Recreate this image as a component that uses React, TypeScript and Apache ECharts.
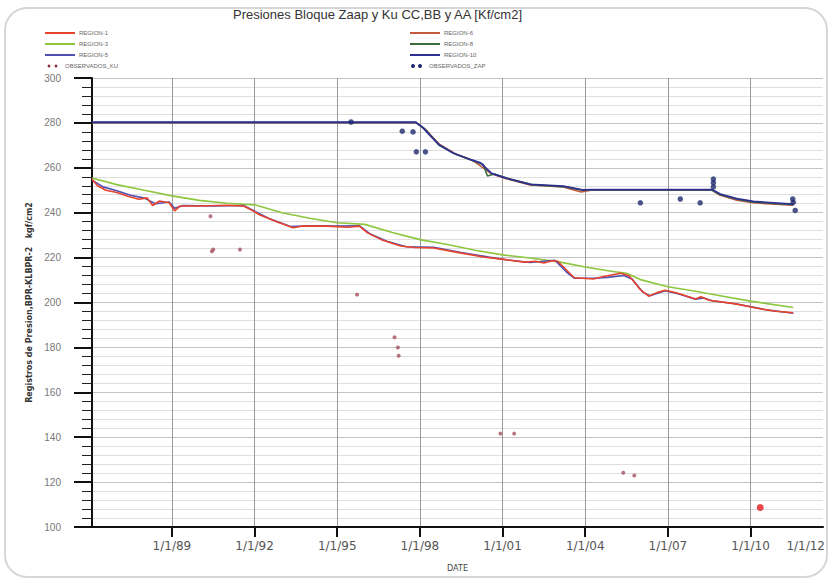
import React, { useEffect, useRef } from "react";
import * as echarts from "echarts";

const TITLE = "Presiones Bloque Zaap y Ku CC,BB y AA [Kf/cm2]";
const Y_NAME = "Registros de Presion,BPR-KLBPR-2   kgf/cm2";
const X_NAME = "DATE";

// x positions are decimal years
const xTickYears = [1989, 1992, 1995, 1998, 2001, 2004, 2007, 2010];
const xLabelYears = [1989, 1992, 1995, 1998, 2001, 2004, 2007, 2010, 2012];

// Ku block (lower group)
const region1: [number, number][] = [
  [1986.1, 255.0], [1986.3, 252.0], [1986.6, 250.0], [1987.0, 249.0], [1987.4, 247.3],
  [1987.8, 246.0], [1988.1, 246.6], [1988.3, 243.2], [1988.55, 245.2], [1988.9, 244.4],
  [1989.1, 240.8], [1989.3, 243.0], [1990.0, 243.0], [1991.0, 243.3], [1991.6, 243.0],
  [1991.8, 241.8], [1992.2, 239.0], [1992.8, 236.0], [1993.4, 233.3], [1993.7, 234.0],
  [1994.6, 234.0], [1995.4, 233.5], [1995.8, 234.0], [1996.1, 231.0], [1996.6, 228.0],
  [1997.3, 225.2], [1997.8, 224.5], [1998.5, 224.3], [1999.5, 222.0], [2000.3, 220.3],
  [2001.1, 219.1], [2001.8, 218.0], [2002.2, 218.4], [2002.5, 217.6], [2002.8, 218.6],
  [2003.0, 218.4], [2003.3, 214.7], [2003.6, 211.0], [2004.3, 210.5], [2004.7, 211.7],
  [2005.3, 213.0], [2005.6, 211.8], [2006.0, 205.7], [2006.3, 202.8], [2006.6, 204.4],
  [2006.9, 205.5], [2007.3, 204.3], [2008.0, 201.6], [2008.2, 202.6], [2008.5, 201.0],
  [2009.4, 199.5], [2010.4, 197.1], [2010.9, 196.1], [2011.55, 195.4],
];
const region3: [number, number][] = [
  [1986.1, 255.5], [1987.0, 252.5], [1988.0, 250.0], [1989.0, 247.5], [1990.0, 245.5],
  [1991.0, 244.2], [1992.0, 243.5], [1993.0, 240.0], [1994.0, 237.5], [1995.0, 235.5],
  [1996.0, 234.8], [1997.0, 231.2], [1998.0, 228.0], [1999.0, 225.8], [2000.0, 223.3],
  [2001.0, 221.2], [2002.0, 219.8], [2003.0, 218.2], [2004.0, 215.8], [2005.0, 213.8],
  [2005.5, 213.0], [2006.0, 210.2], [2007.0, 207.0], [2008.0, 205.0], [2009.0, 202.8],
  [2010.0, 200.6], [2011.55, 197.8],
];
const region5: [number, number][] = [
  [1986.1, 254.5], [1986.5, 251.5], [1987.0, 249.8], [1987.5, 247.8], [1988.0, 246.5],
  [1988.4, 244.0], [1988.9, 244.8], [1989.1, 242.0], [1989.4, 243.2], [1990.5, 243.0],
  [1991.6, 243.2], [1991.9, 241.3], [1992.5, 237.5], [1993.3, 233.8], [1994.0, 234.2],
  [1995.0, 234.0], [1995.8, 234.2], [1996.2, 230.5], [1996.8, 227.3], [1997.5, 224.8],
  [1998.5, 224.6], [1999.5, 222.3], [2000.5, 220.2], [2001.2, 218.9], [2002.0, 217.8],
  [2002.9, 218.8], [2003.3, 213.8], [2003.6, 210.8], [2004.3, 210.8], [2004.8, 211.2],
  [2005.4, 212.0], [2005.7, 210.5], [2006.1, 204.5], [2006.35, 203.0], [2006.9, 205.2],
  [2007.4, 203.8], [2008.0, 201.5], [2008.3, 202.0], [2008.6, 200.8], [2009.5, 199.3],
  [2010.5, 196.9], [2011.55, 195.2],
];

// Zaap block (upper group)
const region6: [number, number][] = [
  [1986.1, 280.1], [1997.85, 280.1], [1998.2, 277.2], [1998.7, 270.5], [1999.3, 266.2],
  [1999.9, 263.4], [2000.6, 257.3], [2001.1, 255.2], [2002.0, 252.4], [2003.2, 251.5],
  [2003.85, 249.2], [2004.2, 250.0], [2008.6, 250.0], [2008.9, 247.8], [2009.5, 245.6],
  [2010.1, 244.4], [2011.55, 243.3],
];
const region8: [number, number][] = [
  [1986.1, 280.2], [1997.85, 280.2], [1998.2, 277.0], [1998.7, 270.0], [1999.3, 266.0],
  [1999.9, 263.2], [2000.3, 261.5], [2000.45, 256.3], [2000.7, 257.2], [2001.2, 255.2],
  [2002.1, 252.4], [2003.3, 251.5], [2003.9, 250.0], [2004.3, 250.1], [2008.6, 250.1],
  [2008.9, 248.0], [2009.5, 246.0], [2010.1, 244.7], [2011.55, 243.6],
];
const region10: [number, number][] = [
  [1986.1, 280.3], [1997.85, 280.3], [1998.1, 278.0], [1998.4, 274.0], [1998.7, 270.3],
  [1999.2, 266.6], [1999.85, 263.6], [2000.2, 262.2], [2000.6, 257.5], [2001.1, 255.5],
  [2002.0, 252.6], [2003.2, 251.8], [2003.9, 250.2], [2004.3, 250.3], [2008.6, 250.3],
  [2008.9, 248.3], [2009.5, 246.3], [2010.1, 245.0], [2011.55, 243.8],
];

const obsKu: [number, number][] = [
  [1990.4, 238.4], [1990.45, 222.8], [1990.5, 223.6], [1991.47, 223.6], [1995.72, 203.5],
  [1997.08, 184.5], [1997.2, 180.0], [1997.23, 176.3], [2000.92, 141.6], [2001.42, 141.6],
  [2005.38, 124.2], [2005.78, 122.9], [2010.35, 108.7],
];
const obsZaap: [number, number][] = [
  [1995.5, 280.4], [1997.36, 276.3], [1997.75, 276.0], [1997.87, 267.1], [1998.2, 267.1],
  [2006.0, 244.4], [2007.45, 246.1], [2008.17, 244.4], [2008.65, 255.0], [2008.65, 253.3],
  [2008.65, 251.5], [2011.53, 246.1], [2011.55, 244.6], [2011.62, 241.0],
];

const lineDefs = [
  { name: "REGION-3", color: "#8dc63f", width: 1.6, data: region3 },
  { name: "REGION-5", color: "#5050b0", width: 1.6, data: region5 },
  { name: "REGION-1", color: "#e8432c", width: 1.6, data: region1 },
  { name: "REGION-6", color: "#c4583c", width: 1.6, data: region6 },
  { name: "REGION-8", color: "#3b6e3b", width: 1.6, data: region8 },
  { name: "REGION-10", color: "#2e3192", width: 1.8, data: region10 },
];
const legendLeft = ["REGION-1", "REGION-3", "REGION-5"];
const legendRight = ["REGION-6", "REGION-8", "REGION-10"];

const yy = (v: number) => "1/1/" + String(Math.round(v) % 100).padStart(2, "0");

export default function App() {
  const ref = useRef<HTMLDivElement>(null);
  useEffect(() => {
    if (!ref.current) return;
    const chart = echarts.init(ref.current, null, { renderer: "svg" });
    const colorOf = (n: string) => lineDefs.find((d) => d.name === n)!.color;
    const legendRows = [33, 44, 55];
    const legendGraphics: any[] = [];
    const addCol = (names: string[], x0: number) => {
      names.forEach((n, i) => {
        legendGraphics.push({
          type: "line",
          shape: { x1: x0, y1: legendRows[i], x2: x0 + 30, y2: legendRows[i] },
          style: { stroke: colorOf(n), lineWidth: 2 },
        });
        legendGraphics.push({
          type: "text",
          x: x0 + 34,
          y: legendRows[i],
          style: { text: n, fontSize: 6, fill: "#666", verticalAlign: "middle", fontFamily: "Liberation Sans" },
        });
      });
    };
    addCol(legendLeft, 45);
    addCol(legendRight, 410);
    const obsRow = 66;
    [
      { x0: 49, name: "OBSERVADOS_KU", color: "#8b2a3a", r: 1.4 },
      { x0: 413, name: "OBSERVADOS_ZAP", color: "#1f2a6e", r: 2 },
    ].forEach((o) => {
      legendGraphics.push({ type: "circle", shape: { cx: o.x0, cy: obsRow, r: o.r }, style: { fill: o.color } });
      legendGraphics.push({ type: "circle", shape: { cx: o.x0 + 7, cy: obsRow, r: o.r }, style: { fill: o.color } });
      legendGraphics.push({
        type: "text",
        x: o.x0 + 16,
        y: obsRow,
        style: { text: o.name, fontSize: 6, fill: "#666", verticalAlign: "middle", fontFamily: "Liberation Sans" },
      });
    });

    const option: any = {
      animation: false,
      backgroundColor: "#fff",
      title: {
        text: TITLE,
        left: 228,
        top: 3,
        textStyle: { fontSize: 13, fontWeight: "normal", color: "#333", fontFamily: "Liberation Sans" },
      },
      grid: { left: 92, right: 0, top: 78, bottom: 52 },
      xAxis: {
        type: "value",
        min: 1986.1,
        max: 2012.63,
        name: X_NAME,
        nameLocation: "middle",
        nameGap: 36,
        nameTextStyle: { fontSize: 9, color: "#444", fontFamily: "DejaVu Sans Condensed" },
        axisLine: { lineStyle: { color: "#111", width: 2 } },
        axisTick: { show: true, length: 10, customValues: xTickYears, lineStyle: { color: "#111", width: 2 } },
        axisLabel: {
          customValues: xLabelYears,
          formatter: (v: number) => yy(v),
          fontSize: 12,
          margin: 13,
          color: "#555",
          fontFamily: "DejaVu Sans",
        },
        splitLine: { show: true, lineStyle: { color: "#9a9a9a", width: 1 } },
      },
      yAxis: {
        type: "value",
        min: 100,
        max: 300,
        interval: 20,
        name: Y_NAME,
        nameLocation: "middle",
        nameGap: 59,
        nameTextStyle: { fontSize: 8, fontWeight: "bold", color: "#333", fontFamily: "DejaVu Sans" },
        axisLine: { show: true, lineStyle: { color: "#111", width: 2 } },
        axisTick: { show: true, length: 18, lineStyle: { color: "#111", width: 2 } },
        minorTick: { show: true, splitNumber: 5, length: 10, lineStyle: { color: "#222", width: 1 } },
        axisLabel: { fontSize: 10, margin: 31, color: "#777", fontFamily: "Liberation Sans" },
        splitLine: { show: true, lineStyle: { color: "#c4c4c4", width: 1 } },
        minorSplitLine: { show: true, lineStyle: { color: "#dedede", width: 1 } },
      },
      series: [
        ...lineDefs.map((d) => ({
          name: d.name,
          type: "line",
          data: d.data,
          symbol: "none",
          lineStyle: { color: d.color, width: d.width },
          itemStyle: { color: d.color },
        })),
        {
          name: "OBSERVADOS_KU",
          type: "scatter",
          data: obsKu,
          symbolSize: (_v: any, p: any) => (p.dataIndex === obsKu.length - 1 ? 7 : 4),
          itemStyle: {
            color: (p: any) => (p.dataIndex === obsKu.length - 1 ? "#e31a1c" : "#a55060"),
          },
          z: 5,
        },
        {
          name: "OBSERVADOS_ZAP",
          type: "scatter",
          data: obsZaap,
          symbolSize: 5.5,
          itemStyle: { color: "#1f2a6e" },
          z: 5,
        },
      ],
      graphic: [
        ...legendGraphics,
        {
          type: "rect",
          shape: { x: 5, y: 8, width: 822, height: 569, r: 22 },
          style: { fill: "none", stroke: "#d6d6d6", lineWidth: 2 },
          silent: true,
          z: 100,
        },
      ],
    };
    chart.setOption(option);
    return () => chart.dispose();
  }, []);
  return <div ref={ref} style={{ position: "absolute", left: 0, top: 0, width: 828, height: 579 }} />;
}
